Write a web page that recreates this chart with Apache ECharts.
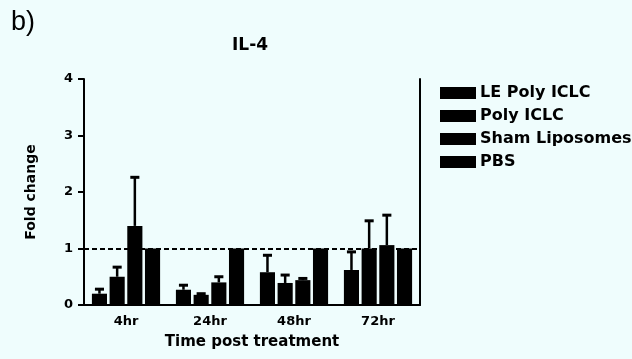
<!DOCTYPE html>
<html>
<head>
<meta charset="utf-8">
<script src="https://cdn.jsdelivr.net/npm/echarts@6/dist/echarts.min.js"></script>
<style>
  html, body { margin: 0; padding: 0; background: #effdfd; }
  #chart { width: 632px; height: 359px; }
</style>
</head>
<body>
<div id="chart"></div>
<script>
// categories and groups
var timePoints = ["4hr", "24hr", "48hr", "72hr"];
var groupNames = ["LE Poly ICLC", "Poly ICLC", "Sham Liposomes", "PBS"];

// mean fold change per group (one value per time point)
var lePolyMean = [0.2, 0.27, 0.58, 0.62];
var polyMean = [0.5, 0.18, 0.39, 1.0];
var shamMean = [1.4, 0.4, 0.44, 1.06];
var pbsMean = [1.0, 1.0, 1.0, 1.0];

// upper error (SEM) per group
var lePolyErr = [0.08, 0.08, 0.3, 0.32];
var polyErr = [0.17, 0.02, 0.14, 0.49];
var shamErr = [0.86, 0.1, 0.03, 0.53];
var pbsErr = [0, 0, 0, 0];

var yTicks = [0, 1, 2, 3, 4];

var means = [lePolyMean, polyMean, shamMean, pbsMean];
var errs = [lePolyErr, polyErr, shamErr, pbsErr];

var FONT = "DejaVu Sans";
var BAR_FRAC = 0.18;
var GAP_FRAC = 0.17;

var chart = echarts.init(document.getElementById("chart"));

// error bar rows: [catIndex, seriesIndex, mean, upper]
var errRows = [];
means.forEach(function (m, s) {
  m.forEach(function (v, c) {
    if (errs[s][c] > 0) errRows.push([c, s, v, v + errs[s][c]]);
  });
});

var series = groupNames.map(function (name, s) {
  var item = {
    name: name,
    type: "bar",
    data: means[s],
    barWidth: BAR_FRAC * 100 + "%",
    barGap: GAP_FRAC * 100 + "%",
    itemStyle: { color: "#000" },
    z: 2
  };
  if (s === 0) {
    item.markLine = {
      silent: true,
      symbol: "none",
      label: { show: false },
      lineStyle: { color: "#000", type: [5, 3], width: 2 },
      data: [{ yAxis: 1 }]
    };
  }
  return item;
});

series.push({
  type: "custom",
  data: errRows,
  z: 3,
  encode: { x: 0, y: 3 },
  renderItem: function (params, api) {
    var c = api.value(0), s = api.value(1);
    var band = api.size([1, 0])[0];
    var bw = band * BAR_FRAC;
    var off = (s - 1.5) * (bw * (1 + GAP_FRAC));
    var base = api.coord([c, api.value(2)]);
    var top = api.coord([c, api.value(3)]);
    var x = base[0] + off;
    var capHalf = bw * 0.3;
    return {
      type: "group",
      children: [
        { type: "line", shape: { x1: x, y1: base[1], x2: x, y2: top[1] }, style: { stroke: "#000", lineWidth: 2.5 } },
        { type: "line", shape: { x1: x - capHalf, y1: top[1], x2: x + capHalf, y2: top[1] }, style: { stroke: "#000", lineWidth: 3 } }
      ]
    };
  }
});

chart.setOption({
  backgroundColor: "#effdfd",
  animation: false,
  title: {
    text: "IL-4",
    left: 227,
    top: 32,
    textStyle: { fontFamily: FONT, fontSize: 17, fontWeight: "bold", color: "#000" }
  },
  graphic: [{
    type: "text",
    left: 11,
    top: 9,
    style: { text: "b)", fontFamily: "Liberation Sans", fontSize: 27, fill: "#000" }
  }],
  legend: {
    data: groupNames,
    orient: "vertical",
    left: 440,
    top: 85,
    padding: 0,
    itemWidth: 36,
    itemHeight: 12,
    itemGap: 7,
    icon: "rect",
    textStyle: { fontFamily: FONT, fontSize: 16, fontWeight: "bold", color: "#000", padding: [0, 0, 0, -1] }
  },
  grid: { left: 84, right: 212, top: 79, bottom: 54 },
  xAxis: {
    type: "category",
    data: timePoints,
    name: "Time post treatment",
    nameLocation: "middle",
    nameGap: 30,
    nameTextStyle: { fontFamily: FONT, fontSize: 15, fontWeight: "bold", color: "#000" },
    axisLine: { lineStyle: { color: "#000", width: 2 } },
    axisTick: { alignWithLabel: true, length: 5, lineStyle: { color: "#000", width: 2 } },
    axisLabel: { fontFamily: FONT, fontSize: 13, fontWeight: "bold", color: "#000", margin: 10 }
  },
  yAxis: [{
    type: "value",
    min: 0,
    max: 4,
    interval: 1,
    name: "Fold change",
    nameLocation: "middle",
    nameGap: 46,
    nameTextStyle: { fontFamily: FONT, fontSize: 14, fontWeight: "bold", color: "#000" },
    axisLine: { show: true, lineStyle: { color: "#000", width: 2 } },
    axisTick: { show: true, length: 6, lineStyle: { color: "#000", width: 2 } },
    axisLabel: {
      fontFamily: FONT, fontSize: 13, fontWeight: "bold", color: "#000", margin: 11,
      formatter: function (v) { return yTicks.indexOf(v) >= 0 ? String(v) : ""; }
    },
    splitLine: { show: false }
  }, {
    type: "value",
    min: 0,
    max: 4,
    position: "right",
    axisLine: { show: true, lineStyle: { color: "#000", width: 2 } },
    axisTick: { show: false },
    axisLabel: { show: false },
    splitLine: { show: false }
  }],
  series: series
});
</script>
</body>
</html>
